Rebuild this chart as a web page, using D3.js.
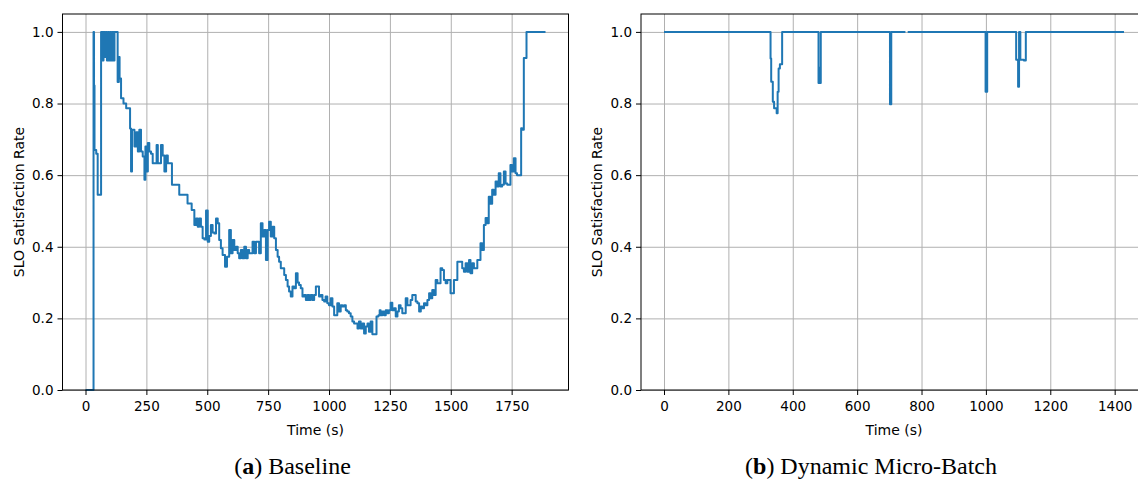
<!DOCTYPE html>
<html>
<head>
<meta charset="utf-8">
<script src="https://cdn.jsdelivr.net/npm/d3@7"></script>
<style>
  body { margin: 0; background: #fff; }
  svg { display: block; }
  .tick text { font-family: "DejaVu Sans", sans-serif; font-size: 13.5px; fill: #000; }
  .tick line { stroke: #000; stroke-width: 1; }
  .grid .tick line { stroke: #b0b0b0; stroke-width: 1; }
  .axis-label { font-family: "DejaVu Sans", sans-serif; font-size: 14px; fill: #000; }
  .caption { font-family: "Liberation Serif", "DejaVu Serif", serif; font-size: 24px; fill: #000; }
</style>
</head>
<body>
<script>
// SLO satisfaction over time

// (a) Baseline
var baselineTime = [0, 33, 35, 37, 44, 50, 64, 70, 74, 79, 83, 88, 92, 97, 101, 106, 110, 115, 119,
  132, 137, 140, 146, 156, 167, 183, 187, 191, 201, 208, 215, 221, 228, 235, 242, 246, 251, 256,
  262, 269, 276, 292, 297, 310, 317, 324, 331, 338, 355, 385, 419, 436, 447, 454, 461, 467, 474,
  481, 488, 495, 502, 508, 515, 522, 529, 536, 543, 549, 556, 563, 573, 581, 590, 597, 604, 611,
  618, 625, 631, 638, 645, 652, 659, 666, 672, 686, 693, 700, 707, 713, 720, 727, 734, 741, 748,
  754, 761, 768, 775, 782, 789, 795, 802, 816, 823, 830, 836, 843, 850, 857, 864, 871, 877, 884,
  891, 898, 905, 912, 918, 925, 932, 939, 946, 959, 966, 973, 980, 986, 993, 1000, 1007, 1014,
  1021, 1034, 1041, 1048, 1055, 1062, 1069, 1075, 1082, 1089, 1096, 1103, 1117, 1123, 1130, 1137,
  1144, 1151, 1158, 1164, 1171, 1178, 1195, 1203, 1208, 1212, 1219, 1226, 1233, 1240, 1246, 1253,
  1260, 1267, 1274, 1281, 1287, 1294, 1301, 1315, 1322, 1335, 1342, 1356, 1363, 1370, 1377, 1383,
  1390, 1397, 1404, 1411, 1418, 1424, 1431, 1438, 1445, 1458, 1465, 1472, 1479, 1486, 1499, 1513,
  1527, 1547, 1554, 1561, 1568, 1575, 1581, 1588, 1595, 1609, 1615, 1622, 1629, 1636, 1643, 1650,
  1656, 1663, 1670, 1677, 1684, 1691, 1697, 1704, 1711, 1718, 1725, 1732, 1745, 1752, 1759, 1766,
  1772, 1789, 1793, 1800, 1811, 1889];
var baselineRate = [0, 1.0, 0.85, 0.67, 0.66, 0.545, 1.0, 0.92, 1.0, 0.93, 1.0, 0.92, 1.0, 0.92, 1.0, 0.92, 1.0, 0.92, 1.0,
  0.86, 0.93, 0.87, 0.815, 0.80, 0.787, 0.73, 0.61, 0.727, 0.68, 0.72, 0.666, 0.727, 0.666, 0.652, 0.587, 0.68, 0.61, 0.69,
  0.666, 0.66, 0.633, 0.684, 0.633, 0.684, 0.655, 0.61, 0.655, 0.633, 0.573, 0.545, 0.521, 0.503, 0.461, 0.479, 0.456, 0.479, 0.456,
  0.424, 0.42, 0.501, 0.414, 0.43, 0.461, 0.44, 0.437, 0.479, 0.466, 0.419, 0.396, 0.377, 0.344, 0.372, 0.447, 0.382, 0.419, 0.391,
  0.40, 0.382, 0.368, 0.391, 0.368, 0.40, 0.368, 0.391, 0.382, 0.414, 0.382, 0.414, 0.414, 0.382, 0.466, 0.429, 0.447, 0.363, 0.447,
  0.47, 0.429, 0.456, 0.424, 0.391, 0.372, 0.358, 0.34, 0.321, 0.307, 0.289, 0.275, 0.261, 0.289, 0.284, 0.326, 0.30, 0.293, 0.284,
  0.261, 0.265, 0.251, 0.265, 0.251, 0.265, 0.251, 0.265, 0.289, 0.261, 0.265, 0.251, 0.247, 0.261, 0.242, 0.237, 0.256, 0.233,
  0.209, 0.242, 0.219, 0.237, 0.233, 0.237, 0.223, 0.219, 0.214, 0.205, 0.191, 0.186, 0.172, 0.191, 0.172, 0.186,
  0.158, 0.177, 0.186, 0.163, 0.191, 0.156, 0.205, 0.209, 0.223, 0.209, 0.219, 0.209, 0.223, 0.214, 0.223, 0.244,
  0.223, 0.228, 0.205, 0.219, 0.237, 0.228, 0.214, 0.256, 0.237, 0.251, 0.265, 0.247, 0.242, 0.219, 0.233, 0.228,
  0.242, 0.237, 0.251, 0.27, 0.256, 0.279, 0.265, 0.307, 0.298, 0.34, 0.335, 0.307, 0.298, 0.307, 0.27, 0.307,
  0.358, 0.34, 0.33, 0.354, 0.33, 0.363, 0.326, 0.354, 0.34, 0.363, 0.363, 0.41, 0.391, 0.461, 0.48, 0.466,
  0.54, 0.52, 0.559, 0.545, 0.582, 0.568, 0.605, 0.568, 0.573, 0.61, 0.577, 0.573, 0.628, 0.61, 0.647, 0.605,
  0.60, 0.731, 0.727, 0.927, 1.0, 1.0];

// (b) Dynamic Micro-Batch (null = gap in the recorded line)
var microTime = [0, 331, 333, 338, 342, 350, 353, 356, 360, 367, 480, 483, 485, 487, 702, 706, 750, 752,
  757, 999, 1004, 1094, 1100, 1103, 1107, 1118, 1124, 1429];
var microRate = [1.0, 0.926, 0.861, 0.805, 0.787, 0.773, 0.833, 0.898, 0.91, 1.0, 0.857, 0.9, 0.857, 1.0, 0.798, 1.0, 1.0, null,
  1.0, 0.833, 1.0, 0.922, 0.847, 1.0, 0.922, 0.92, 1.0, 1.0];

var yTicks = [0, 0.2, 0.4, 0.6, 0.8, 1.0];
var baselineTicks = [0, 250, 500, 750, 1000, 1250, 1500, 1750];
var microTicks = [0, 200, 400, 600, 800, 1000, 1200, 1400];

var svg_width = 1138;
var svg_height = 482;
var plot_top = 14;
var plot_height = 376;
var plot_width = 506;

var svg = d3.select('body').append('svg')
  .attr('width', svg_width)
  .attr('height', svg_height);

function drawPanel(left, times, rates, xTicks, letter, title) {
  var points = times.map(function(t, i) { return [t, rates[i]]; });
  var tMax = d3.max(times);
  var pad = tMax * 0.05; // matplotlib default margin

  var x = d3.scaleLinear().domain([-pad, tMax + pad]).range([0, plot_width]);
  var y = d3.scaleLinear().domain([0, 1.05]).range([plot_height, 0]);

  var g = svg.append('g').attr('transform', 'translate(' + left + ',' + plot_top + ')');

  // grid first so the line sits on top
  g.append('g').attr('class', 'grid')
    .attr('transform', 'translate(0,' + plot_height + ')')
    .call(d3.axisBottom(x).tickValues(xTicks).tickSize(-plot_height).tickFormat(''))
    .call(function(s) { s.select('.domain').remove(); });
  g.append('g').attr('class', 'grid')
    .call(d3.axisLeft(y).tickValues(yTicks).tickSize(-plot_width).tickFormat(''))
    .call(function(s) { s.select('.domain').remove(); });

  var line = d3.line()
    .defined(function(d) { return d[1] !== null; })
    .x(function(d) { return x(d[0]); })
    .y(function(d) { return y(d[1]); })
    .curve(d3.curveStepAfter);

  g.append('path')
    .datum(points)
    .attr('fill', 'none')
    .attr('stroke', '#1f77b4')
    .attr('stroke-width', 2)
    .attr('stroke-linejoin', 'round')
    .attr('d', line);

  // spines
  g.append('rect')
    .attr('width', plot_width)
    .attr('height', plot_height)
    .attr('fill', 'none')
    .attr('stroke', '#000')
    .attr('stroke-width', 1);

  g.append('g')
    .attr('transform', 'translate(0,' + plot_height + ')')
    .call(d3.axisBottom(x).tickValues(xTicks).tickSize(5).tickPadding(6).tickFormat(d3.format('d')))
    .call(function(s) { s.select('.domain').remove(); });
  g.append('g')
    .call(d3.axisLeft(y).tickValues(yTicks).tickSize(5).tickPadding(4).tickFormat(d3.format('.1f')))
    .call(function(s) { s.select('.domain').remove(); });

  g.append('text')
    .attr('class', 'axis-label')
    .attr('text-anchor', 'middle')
    .attr('x', plot_width / 2)
    .attr('y', plot_height + 45)
    .text('Time (s)');

  g.append('text')
    .attr('class', 'axis-label')
    .attr('text-anchor', 'middle')
    .attr('transform', 'translate(-39,' + (plot_height / 2) + ') rotate(-90)')
    .text('SLO Satisfaction Rate');

  var cap = svg.append('text')
    .attr('class', 'caption')
    .attr('text-anchor', 'middle')
    .attr('x', left + plot_width / 2 - 23)
    .attr('y', 474);
  cap.append('tspan').text('(');
  cap.append('tspan').attr('font-weight', 'bold').text(letter);
  cap.append('tspan').text(') ' + title);
}

drawPanel(62.5, baselineTime, baselineRate, baselineTicks, 'a', 'Baseline');
drawPanel(641, microTime, microRate, microTicks, 'b', 'Dynamic Micro-Batch');
</script>
</body>
</html>
